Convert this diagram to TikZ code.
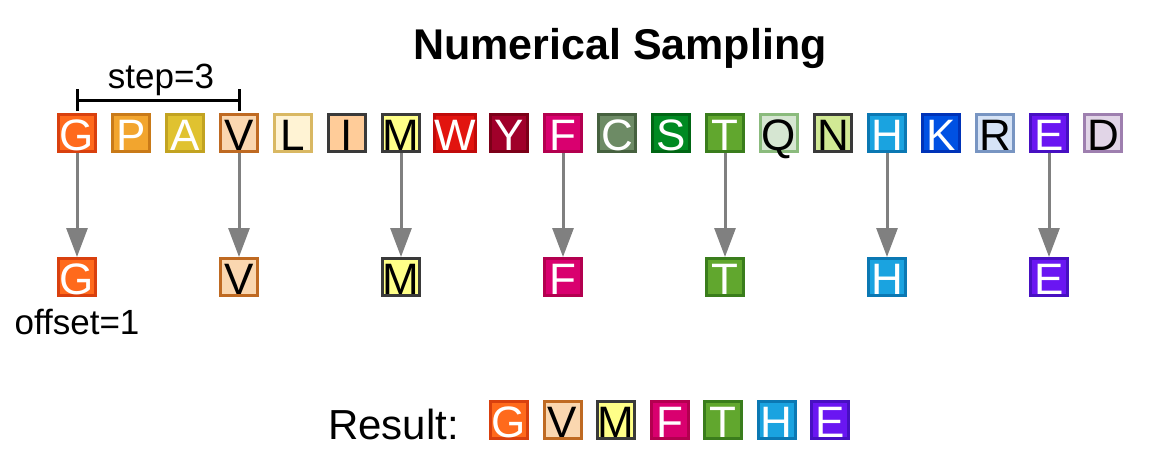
\documentclass[tikz,border=0pt]{standalone}
\usepackage{fontspec}
\setmainfont{Liberation Sans}
\usetikzlibrary{arrows.meta}
\definecolor{fG}{HTML}{FF6A1C}\definecolor{bG}{HTML}{D9400E}
\definecolor{fP}{HTML}{F2A52E}\definecolor{bP}{HTML}{C97A18}
\definecolor{fA}{HTML}{E0C230}\definecolor{bA}{HTML}{C2A321}
\definecolor{fV}{HTML}{FAD7B0}\definecolor{bV}{HTML}{BF6A22}
\definecolor{fL}{HTML}{FFF3D4}\definecolor{bL}{HTML}{D9B863}
\definecolor{fI}{HTML}{FFCC99}\definecolor{bI}{HTML}{3A3A3A}
\definecolor{fM}{HTML}{FFFF88}\definecolor{bM}{HTML}{3A3A3A}
\definecolor{fW}{HTML}{E2140F}\definecolor{bW}{HTML}{C10A0A}
\definecolor{fY}{HTML}{A0002A}\definecolor{bY}{HTML}{7C0018}
\definecolor{fF}{HTML}{D9006F}\definecolor{bF}{HTML}{B3004F}
\definecolor{fC}{HTML}{6D8B65}\definecolor{bC}{HTML}{46613F}
\definecolor{fS}{HTML}{008A22}\definecolor{bS}{HTML}{006614}
\definecolor{fT}{HTML}{61A72E}\definecolor{bT}{HTML}{3A7D1C}
\definecolor{fQ}{HTML}{D6E6D2}\definecolor{bQ}{HTML}{8BBB7D}
\definecolor{fN}{HTML}{D1E994}\definecolor{bN}{HTML}{3A3A3A}
\definecolor{fH}{HTML}{1AA3E0}\definecolor{bH}{HTML}{0B78B3}
\definecolor{fK}{HTML}{0051E3}\definecolor{bK}{HTML}{0033B8}
\definecolor{fR}{HTML}{D6E3F6}\definecolor{bR}{HTML}{7895C2}
\definecolor{fE}{HTML}{6A16F2}\definecolor{bE}{HTML}{4710C2}
\definecolor{fD}{HTML}{E1D5E7}\definecolor{bD}{HTML}{9E7FAF}
\definecolor{arrowgray}{HTML}{808080}
\tikzset{
  res/.style 2 args={draw=b#1, fill=f#1, text=#2, line width=3pt,
    minimum width=37pt, minimum height=37pt, inner sep=0pt,
    text height=34pt, text depth=0pt,
    font=\fontsize{44}{52}\selectfont},
  samplearrow/.style={draw=arrowgray, line width=3pt,
    -{Triangle[width=21pt,length=29pt]}},
  bracket/.style={draw=black, line width=3pt},
  lbl/.style={inner sep=0pt, font=\fontsize{35}{42}\selectfont},
}
\begin{document}
\begin{tikzpicture}[x=1pt,y=-1pt]
\useasboundingbox (0,0) rectangle (1170,474);
\node[inner sep=0pt, font=\fontsize{43}{50}\bfseries\selectfont] (title) at (620,48) {Numerical Sampling};
% top row
\foreach \l/\c [count=\i from 0] in {G/white,P/white,A/white,V/black,L/black,I/black,M/black,W/white,Y/white,F/white,C/white,S/white,T/white,Q/black,N/black,H/white,K/white,R/black,E/white,D/black}{
  \node[res={\l}{\c}] (t\l) at ({77+54*\i},133) {\l};
}
% sampled row
\foreach \l/\c/\i in {G/white/0,V/black/3,M/black/6,F/white/9,T/white/12,H/white/15,E/white/18}{
  \node[res={\l}{\c}] (s\l) at ({77+54*\i},277) {\l};
  \draw[samplearrow] (t\l.south) -- (s\l.north);
}
% step bracket
\coordinate (bl) at (77,100);
\coordinate (br) at (239,100);
\draw[bracket] ([yshift=-11pt]bl) -- ([yshift=11pt]bl);
\draw[bracket] ([yshift=-11pt]br) -- ([yshift=11pt]br);
\draw[bracket] (bl) -- (br);
\node[lbl] (step) at (161,80) {step=3};
\node[lbl] (offset) at (77,322) {offset=1};
% result
\node[inner sep=0pt, anchor=east, font=\fontsize{42}{50}\selectfont] (result) at (459,424) {Result:};
\foreach \l/\c [count=\i from 0] in {G/white,V/black,M/black,F/white,T/white,H/white,E/white}{
  \node[res={\l}{\c}] (r\l) at ({509+53.5*\i},420) {\l};
}
\end{tikzpicture}
\end{document}
